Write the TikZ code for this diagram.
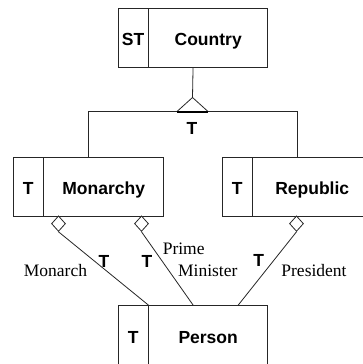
\documentclass[tikz,border=0pt]{standalone}
\usepackage{fontspec}
\setmainfont{Liberation Serif}
\newfontfamily\hvbold{Liberation Sans}[BoldFont={* Bold}]
\usetikzlibrary{calc,shapes.geometric}

\tikzset{
  x=1pt, y=-1pt,
  wire/.style={line width=0.8pt, draw=black!85},
  entitypart/.style={wire, draw, rectangle, inner sep=0pt, minimum height=59pt,
    anchor=north west, text height=17pt, text depth=0pt,
    font=\hvbold\bfseries\fontsize{17.5}{20}\selectfont},
  tagpart/.style={entitypart, minimum width=29.5pt},
  rolemark/.style={wire, draw, fill=white, diamond, inner sep=0pt,
    minimum width=14pt, minimum height=15.5pt, anchor=north},
  rolename/.style={anchor=base, font=\fontsize{17.5}{20}\selectfont},
  tmark/.style={anchor=base, font=\hvbold\bfseries\fontsize{17.5}{20}\selectfont},
}

\begin{document}
\begin{tikzpicture}
\useasboundingbox (0,0) rectangle (363,364);

% entity boxes: tag part and name part
\node[tagpart] (ctag) at (118,7.5) {ST};
\node[entitypart, minimum width=119pt] (cname) at (ctag.north east) {Country};

\node[tagpart] (mtag) at (13,156.5) {T};
\node[entitypart, minimum width=120pt] (mname) at (mtag.north east) {Monarchy};

\node[tagpart] (rtag) at (222,156.5) {T};
\node[entitypart, minimum width=119pt] (rname) at (rtag.north east) {Republic};

\node[tagpart] (ptag) at (118,305) {T};
\node[entitypart, minimum width=119pt] (pname) at (ptag.north east) {Person};

% subtype hierarchy
\coordinate (ctop) at ($(ctag.south west)!0.5!(cname.south east)$);
\coordinate (apex) at (192.5,97.5);
\coordinate (bus) at (192.5,111.5);
\coordinate (mtop) at ($(mtag.north west)!0.5!(mname.north east)$);
\coordinate (rtop) at ($(rtag.north west)!0.5!(rname.north east)$);
\draw[wire] (ctop) -- (apex);
\draw[wire] (mtop) |- (bus) -| (rtop);
\draw[wire] ($(bus)+(-15.5,0)$) -- (apex) -- ($(bus)+(15.5,0)$);
\draw[line width=2pt] ($(bus)+(-15.5,0)$) -- ($(bus)+(15.5,0)$);
\node[tmark] (hier) at (192,134) {T};

% roles played by Person
\node[rolemark] (dmon) at (58.5,215.5) {};
\node[rolemark] (dpm) at (141.5,215.5) {};
\node[rolemark] (dpres) at (296.5,215.5) {};

\coordinate (ptop) at ($(ptag.north west)!0.5!(pname.north east)$);
\coordinate (pright) at ($(pname.north west)+(90,0)$);
\draw[wire] (dmon.south) -- (ptag.north east);
\draw[wire] (dpm.south) -- (ptop);
\draw[wire] (dpres.south) -- (pright);

\node[rolename] (lmon) at (55.5,276) {Monarch};
\node[rolename] (lprime) at (183.7,254) {Prime};
\node[rolename] (lmin) at (207.8,276) {Minister};
\node[rolename] (lpres) at (314,276) {President};

\node[tmark] (tmon) at (104,267) {T};
\node[tmark] (tpm) at (147,267) {T};
\node[tmark] (tpres) at (258.7,266.7) {T};
\end{tikzpicture}
\end{document}
